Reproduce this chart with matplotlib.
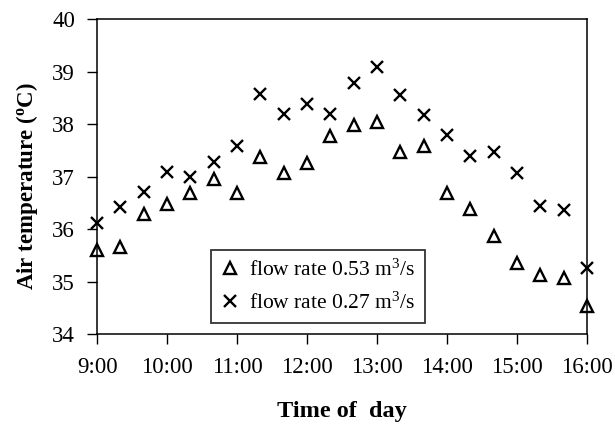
import pandas as pd
import matplotlib.pyplot as plt
from matplotlib.ticker import MultipleLocator

# Readings taken every 20 minutes between 9:00 and 16:00
times = ["9:00", "9:20", "9:40", "10:00", "10:20", "10:40", "11:00", "11:20",
         "11:40", "12:00", "12:20", "12:40", "13:00", "13:20", "13:40", "14:00",
         "14:20", "14:40", "15:00", "15:20", "15:40", "16:00"]

# Air temperature (C) at flow rate 0.53 m3/s
temp_053 = [35.60, 35.67, 36.29, 36.48, 36.70, 36.96, 36.70, 37.38,
            37.08, 37.26, 37.78, 37.99, 38.05, 37.48, 37.58, 36.69,
            36.38, 35.87, 35.36, 35.13, 35.07, 34.54]

# Air temperature (C) at flow rate 0.27 m3/s
temp_027 = [36.13, 36.42, 36.72, 37.10, 36.99, 37.28, 37.58, 38.57,
            38.19, 38.38, 38.19, 38.79, 39.10, 38.56, 38.18, 37.80,
            37.40, 37.48, 37.07, 36.45, 36.37, 35.26]

hour_labels = ["9:00", "10:00", "11:00", "12:00", "13:00", "14:00", "15:00", "16:00"]


# convert "h:mm" to decimal hours
def to_hours(s):
    h, m = s.split(":")
    return int(h) + int(m) / 60.0


df = pd.DataFrame({"time": times, "t053": temp_053, "t027": temp_027})
df["hours"] = df["time"].apply(to_hours)

plt.rcParams["font.family"] = "Liberation Serif"
plt.rcParams["mathtext.fontset"] = "custom"
plt.rcParams["mathtext.rm"] = "Liberation Serif"
plt.rcParams["mathtext.it"] = "Liberation Serif:italic"
plt.rcParams["mathtext.bf"] = "Liberation Serif:bold"

fig = plt.figure(figsize=(6.15, 4.37), dpi=100)
ax = fig.add_axes([0.158, 0.2346, 0.7965, 0.7212])

ax.plot(df["hours"], df["t053"], linestyle="none", marker="^", markersize=9,
        markerfacecolor="none", markeredgecolor="black", markeredgewidth=1.7,
        label=r"flow rate 0.53 m$^{3}$/s", clip_on=False)
ax.plot(df["hours"], df["t027"], linestyle="none", marker="x", markersize=9,
        color="black", markeredgewidth=1.7,
        label=r"flow rate 0.27 m$^{3}$/s", clip_on=False)

ax.set_xlim(9, 16)
ax.set_ylim(34, 40)
ax.set_xticks([to_hours(h) for h in hour_labels])
ax.set_xticklabels(hour_labels)
ax.yaxis.set_major_locator(MultipleLocator(1))

ax.tick_params(axis="both", direction="out", length=7, width=1.0,
               labelsize=16.5, colors="black")
ax.tick_params(axis="x", pad=9)
ax.tick_params(axis="y", pad=9)

for sp in ax.spines.values():
    sp.set_linewidth(1.1)
    sp.set_color("black")

ax.set_xlabel("Time of  day", fontsize=17.5, fontweight="bold", labelpad=17)
ax.set_ylabel(r"Air temperature ($^{\mathbf{o}}$C)", fontsize=16.5,
              fontweight="bold")
ax.yaxis.set_label_coords(-0.117, 0.472)

leg = ax.legend(loc="lower left", bbox_to_anchor=(0.233, 0.036), borderaxespad=0,
                fontsize=15.5, frameon=True, fancybox=False, handlelength=0.8,
                handletextpad=0.5, borderpad=0.45, labelspacing=0.55)
leg.get_frame().set_edgecolor("black")
leg.get_frame().set_linewidth(1.3)

fig.savefig("out.png", dpi=100)
